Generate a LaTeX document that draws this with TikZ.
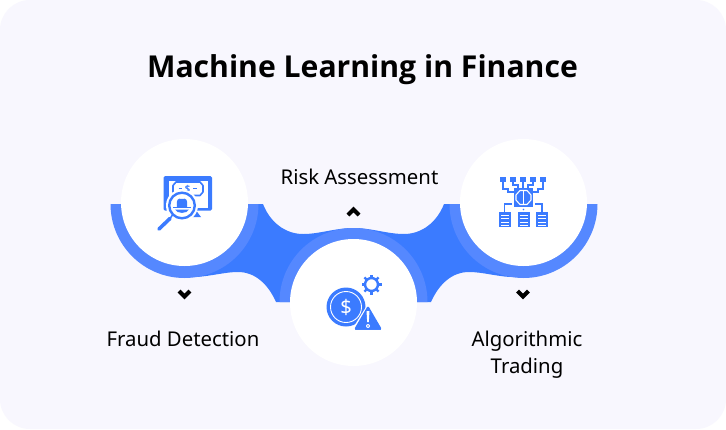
\documentclass[tikz,border=0pt]{standalone}
\usepackage{fontspec}
\setmainfont{Noto Sans}
\newfontfamily\titlef{Open Sans}
\definecolor{bgc}{HTML}{F8F7FE}
\definecolor{bandc}{HTML}{3B7BFF}
\definecolor{ringc}{HTML}{5588FF}
\definecolor{iconc}{HTML}{3B7BFF}
\tikzset{
  disc/.style={circle,fill=white,minimum size=127pt,inner sep=0pt},
  lab/.style={anchor=base,font=\fontsize{20.35}{24}\selectfont,text=black,inner sep=0pt},
  chev/.style={draw=black,line width=4pt,miter limit=10},
  ic/.style={fill=iconc,draw=none},
  icl/.style={draw=iconc,line width=1.3pt},
  wl/.style={draw=white,line width=1.1pt}
}
\begin{document}
\begin{tikzpicture}[x=1pt,y=-1pt]
\useasboundingbox (0,0) rectangle (726,429);
\fill[white] (0,0) rectangle (726,429);
\fill[bgc,rounded corners=30pt] (0,0) rectangle (726,429);
% band
\fill[bandc] (200,204) -- (263,204)
  .. controls (270,222) and (285,234) .. (303,234)
  .. controls (320,234) and (335,228) .. (353.5,228)
  .. controls (372,228) and (387,234) .. (404,234)
  .. controls (422,234) and (437,222) .. (444,204)
  -- (510,204) -- (510,277)
  .. controls (495,276) and (482,272) .. (469,272)
  .. controls (452,272) and (439,284) .. (431,302)
  -- (276,302)
  .. controls (268,284) and (255,272) .. (238,272)
  .. controls (225,272) and (212,276) .. (196,277) -- cycle;
% rings
\fill[ringc] (258.5,204) arc[start angle=0,end angle=180,radius=74] -- cycle;
\fill[ringc] (597.5,204) arc[start angle=0,end angle=180,radius=74] -- cycle;
\fill[ringc] (427.5,302) arc[start angle=360,end angle=180,radius=74] -- cycle;
% discs
\node[disc] (d1) at (184.5,202.5) {};
\node[disc] (d2) at (353.5,302.5) {};
\node[disc] (d3) at (523.5,202.5) {};
% title and labels
\node[anchor=base,inner sep=0pt,font=\titlef\fontsize{30.15}{36}\selectfont\bfseries] (title) at (362.5,77) {Machine Learning in Finance};
\node[lab] (l2) at (359.5,184) {Risk Assessment};
\node[lab] (l1) at (183,346) {Fraud Detection};
\node[lab] (l3a) at (527,346) {Algorithmic};
\node[lab] (l3b) at (527,373) {Trading};
% chevrons
\draw[chev] (179,291) -- (184.5,296.5) -- (190,291);
\draw[chev] (348,215) -- (353.5,209.5) -- (359,215);
\draw[chev] (517.5,291) -- (523,296.5) -- (528.5,291);
% left icon
\begin{scope}
\fill[ic,rounded corners=1.5pt] (163.5,176) rectangle (212,210.5);
\fill[white] (169,180.5) rectangle (207.5,207.5);
\draw[icl,line width=1.6pt,line join=round] (176,182) -- (200,182) -- (203,185.5) -- (203,192) -- (200,195.5) -- (176,195.5) -- (173,192) -- (173,185.5) -- cycle;
\node[inner sep=0pt,text=iconc,font=\titlef\fontsize{9.5}{9}\selectfont\bfseries] (s1) at (187.5,188.7) {\$};
\draw[icl] (178.5,188.7) -- (182,188.7);
\draw[icl] (193,188.7) -- (196.5,188.7);
\fill[ic] (192,217) -- (196.5,211) -- (201,217) -- cycle;
\fill[white] (182,205.5) circle[radius=16];
\draw[iconc,line width=2.4pt] (182,205.5) circle[radius=12.8];
\draw[iconc,line width=3.6pt,line cap=round] (170,218.5) -- (159,229);
\draw[iconc,line width=1.5pt] (172.5,215) -- (170,218.5);
\fill[ic] (177,207) .. controls (176,199) and (178,198) .. (182,199) .. controls (186,198) and (188,199) .. (187,207) -- cycle;
\fill[ic] (173,206.5) rectangle (191,208);
\fill[ic] (175,209.5) .. controls (177,214) and (187,214) .. (189,209.5) -- cycle;
\end{scope}
% centre icon
\begin{scope}
\fill[ic] (346,307) circle[radius=19.5];
\draw[white,line width=0.9pt] (346,307) circle[radius=15.5];
\node[inner sep=0pt,text=white,font=\fontsize{20}{20}\selectfont] (s2) at (346,307) {\$};
\draw[white,line width=2.4pt,line join=round,fill=iconc] (368,306) -- (352.5,331) -- (383.5,331) -- cycle;
\fill[ic,rounded corners=1.5pt] (368,305.5) -- (354,329.5) -- (382,329.5) -- cycle;
\fill[white] (366.5,311) -- (369.5,311) -- (368.8,322) -- (367.2,322) -- cycle;
\fill[white] (368,326) circle[radius=2];
\fill[iconc] (368,326) circle[radius=0.8];
\draw[iconc,line width=2.4pt] (371.5,284.5) circle[radius=6.5];
\foreach \a in {0,45,...,315}
  \draw[iconc,line width=2.2pt] (371.5,284.5) ++(\a:7) -- ++(\a:3);
\end{scope}
% right icon
\begin{scope}
\foreach \x in {503,513,523,533,543}
  \fill[ic] (\x-2.7,176.8) rectangle (\x+2.7,182);
\draw[icl,line width=1.1pt] (503,182) -- (503,189) -- (508,189) -- (508,192) -- (514,192);
\draw[icl,line width=1.1pt] (513,182) -- (513,185) -- (518,185) -- (518,188);
\draw[icl,line width=1.1pt] (523,182) -- (523,188);
\draw[icl,line width=1.1pt] (533,182) -- (533,185) -- (528,185) -- (528,188);
\draw[icl,line width=1.1pt] (543,182) -- (543,189) -- (538,189) -- (538,192) -- (533,192);
\fill[ic] (514,188) rectangle (533,207);
\draw[wl,line join=round] (520,190.5) -- (527,190.5) -- (531,195) -- (531,200) -- (527,204.5) -- (520,204.5) -- (516,200) -- (516,195) -- cycle;
\draw[wl] (523.5,190.5) -- (523.5,204.5);
\draw[icl,line width=1.1pt] (504.5,212) -- (504.5,204) -- (512,204);
\draw[icl,line width=1.1pt] (542,212) -- (542,204) -- (535,204);
\fill[ic] (523.5,209.5) circle[radius=0.9];
\foreach \x in {499,517.5,536}{
  \fill[ic] (\x,212) rectangle (\x+12,227);
  \foreach \y in {215,218.5,222,225}
    \draw[white,line width=0.9pt] (\x+2,\y) -- (\x+10,\y);
}
\end{scope}
\end{tikzpicture}
\end{document}
